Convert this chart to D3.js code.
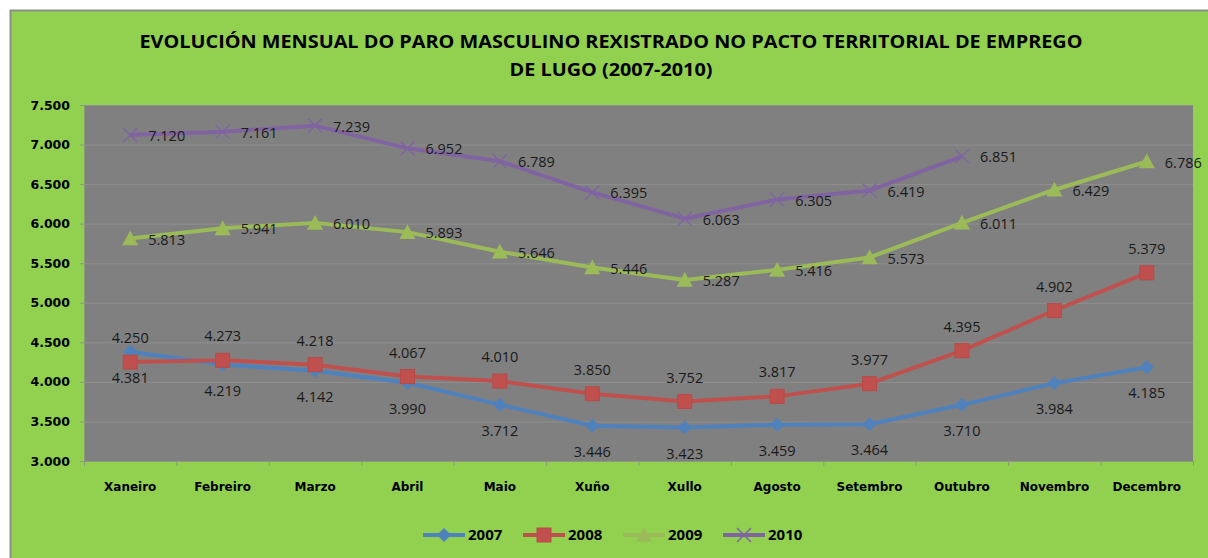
<!DOCTYPE html>
<html>
<head>
<meta charset="utf-8">
<script src="https://cdn.jsdelivr.net/npm/d3@7"></script>
<style>
  html, body { margin: 0; padding: 0; background: #fff; }
  svg { display: block; }
</style>
</head>
<body>
<div id="chart"></div>
<script>
const months = ['Xaneiro', 'Febreiro', 'Marzo', 'Abril', 'Maio', 'Xuño', 'Xullo', 'Agosto', 'Setembro', 'Outubro', 'Novembro', 'Decembro'];
const years = ['2007', '2008', '2009', '2010'];
const v2007 = [4381, 4219, 4142, 3990, 3712, 3446, 3423, 3459, 3464, 3710, 3984, 4185];
const v2008 = [4250, 4273, 4218, 4067, 4010, 3850, 3752, 3817, 3977, 4395, 4902, 5379];
const v2009 = [5813, 5941, 6010, 5893, 5646, 5446, 5287, 5416, 5573, 6011, 6429, 6786];
const v2010 = [7120, 7161, 7239, 6952, 6789, 6395, 6063, 6305, 6419, 6851];
const yTicks = [3000, 3500, 4000, 4500, 5000, 5500, 6000, 6500, 7000, 7500];

const W = 1208, H = 558;
const plot = { left: 84, right: 1193, top: 105, bottom: 461 };

const series = [
  { name: years[0], values: v2007, color: '#4F81BD', marker: 'diamond', label: 'below' },
  { name: years[1], values: v2008, color: '#C0504D', marker: 'square', label: 'above' },
  { name: years[2], values: v2009, color: '#9BBB59', marker: 'triangle', label: 'right' },
  { name: years[3], values: v2010, color: '#8064A2', marker: 'cross', label: 'right' }
];

const fmt = d3.formatLocale({ decimal: ',', thousands: '.', grouping: [3], currency: ['', '€'] }).format(',d');

const svg = d3.select('#chart').append('svg')
  .attr('width', W).attr('height', H);

// fondo verde
svg.append('rect')
  .attr('x', 10.5).attr('y', 10.5)
  .attr('width', W).attr('height', H)
  .attr('fill', '#92D050')
  .attr('stroke', '#8a8f84').attr('stroke-width', 2);

const x = d3.scaleBand().domain(months).range([plot.left, plot.right]);
const y = d3.scaleLinear().domain([3000, 7500]).range([plot.bottom, plot.top]);

svg.append('rect')
  .attr('x', plot.left).attr('y', plot.top)
  .attr('width', plot.right - plot.left).attr('height', plot.bottom - plot.top)
  .attr('fill', '#808080');

// grid
svg.append('g')
  .selectAll('line')
  .data(yTicks.slice(1))
  .join('line')
  .attr('x1', plot.left).attr('x2', plot.right)
  .attr('y1', d => y(d) + 0.5).attr('y2', d => y(d) + 0.5)
  .attr('stroke', '#8f8f8f').attr('stroke-width', 1);

// eixo y
svg.append('g')
  .attr('transform', `translate(${plot.left},0)`)
  .call(d3.axisLeft(y).tickValues(yTicks).tickFormat(fmt).tickSize(4).tickPadding(10))
  .call(g => g.select('.domain').attr('stroke', '#8a9a7a'))
  .call(g => g.selectAll('.tick line').attr('stroke', '#8a9a7a'))
  .call(g => g.selectAll('.tick text')
    .attr('font-family', 'DejaVu Sans').attr('font-weight', 'bold')
    .attr('font-size', 12.5).attr('fill', '#000'));

// eixo x
svg.append('g')
  .attr('transform', `translate(0,${plot.bottom})`)
  .call(d3.axisBottom(x).tickSize(0).tickPadding(21))
  .call(g => g.select('.domain').attr('stroke', '#8a9a7a'))
  .call(g => g.selectAll('.tick text')
    .attr('font-family', 'DejaVu Sans').attr('font-weight', 'bold')
    .attr('font-size', 12).attr('fill', '#000'));

svg.append('g')
  .selectAll('line')
  .data(months.concat(['_end']))
  .join('line')
  .attr('x1', (d, i) => plot.left + i * x.bandwidth() + 0.5)
  .attr('x2', (d, i) => plot.left + i * x.bandwidth() + 0.5)
  .attr('y1', plot.bottom).attr('y2', plot.bottom + 5)
  .attr('stroke', '#8a9a7a');

const line = d3.line()
  .x((d, i) => x(months[i]) + x.bandwidth() / 2)
  .y(d => y(d));

function drawMarker(g, type, color, s) {
  if (type === 'diamond') {
    g.append('path').attr('d', `M0,${-s}L${s},0L0,${s}L${-s},0Z`).attr('fill', color);
  } else if (type === 'square') {
    g.append('rect').attr('x', -s).attr('y', -s).attr('width', 2 * s).attr('height', 2 * s)
      .attr('fill', color).attr('stroke', '#b84a47').attr('stroke-width', 1);
  } else if (type === 'triangle') {
    g.append('path').attr('d', `M0,${-s}L${s},${s * 0.85}L${-s},${s * 0.85}Z`).attr('fill', color);
  } else {
    g.append('path').attr('d', `M${-s},${-s}L${s},${s}M${s},${-s}L${-s},${s}`)
      .attr('stroke', color).attr('stroke-width', 1.5).attr('fill', 'none');
  }
}

const sizes = { diamond: 7, square: 7, triangle: 8, cross: 7 };

series.forEach(s => {
  const g = svg.append('g');
  g.append('path')
    .datum(s.values)
    .attr('d', line)
    .attr('fill', 'none')
    .attr('stroke', s.color)
    .attr('stroke-width', 4)
    .attr('stroke-linejoin', 'round');

  g.selectAll('g.pt')
    .data(s.values)
    .join('g')
    .attr('class', 'pt')
    .attr('transform', (d, i) => `translate(${x(months[i]) + x.bandwidth() / 2},${y(d)})`)
    .each(function () { drawMarker(d3.select(this), s.marker, s.color, sizes[s.marker]); });
});

// etiquetas de datos
series.forEach(s => {
  svg.append('g')
    .selectAll('text')
    .data(s.values)
    .join('text')
    .attr('x', (d, i) => x(months[i]) + x.bandwidth() / 2 + (s.label === 'right' ? 18 : 0))
    .attr('y', d => y(d) + (s.label === 'below' ? 26 : s.label === 'above' ? -24 : 1))
    .attr('dy', '0.35em')
    .attr('text-anchor', s.label === 'right' ? 'start' : 'middle')
    .attr('font-family', 'Open Sans').attr('font-size', 14.5)
    .attr('fill', '#1a1a1a')
    .text(d => fmt(d));
});

// titulo
const title = svg.append('g')
  .attr('font-family', 'Open Sans').attr('font-weight', 'bold')
  .attr('font-size', 18).attr('fill', '#000')
  .attr('text-anchor', 'middle');
title.append('text')
  .attr('x', 611).attr('y', 48)
  .attr('textLength', 943).attr('lengthAdjust', 'spacingAndGlyphs')
  .text('EVOLUCIÓN MENSUAL DO PARO MASCULINO REXISTRADO NO PACTO TERRITORIAL DE EMPREGO');
title.append('text')
  .attr('x', 611).attr('y', 76)
  .attr('textLength', 203).attr('lengthAdjust', 'spacingAndGlyphs')
  .text('DE LUGO (2007-2010)');

// lenda
const legend = svg.append('g');
series.forEach((s, i) => {
  const lx = 423 + i * 100, ly = 535;
  const g = legend.append('g');
  g.append('line')
    .attr('x1', lx).attr('x2', lx + 42)
    .attr('y1', ly).attr('y2', ly)
    .attr('stroke', s.color).attr('stroke-width', 4);
  const m = g.append('g').attr('transform', `translate(${lx + 21},${ly})`);
  drawMarker(m, s.marker, s.color, sizes[s.marker]);
  g.append('text')
    .attr('x', lx + 45).attr('y', ly).attr('dy', '0.35em')
    .attr('font-family', 'Open Sans').attr('font-weight', 'bold')
    .attr('font-size', 15).attr('fill', '#000')
    .text(s.name);
});
</script>
</body>
</html>
